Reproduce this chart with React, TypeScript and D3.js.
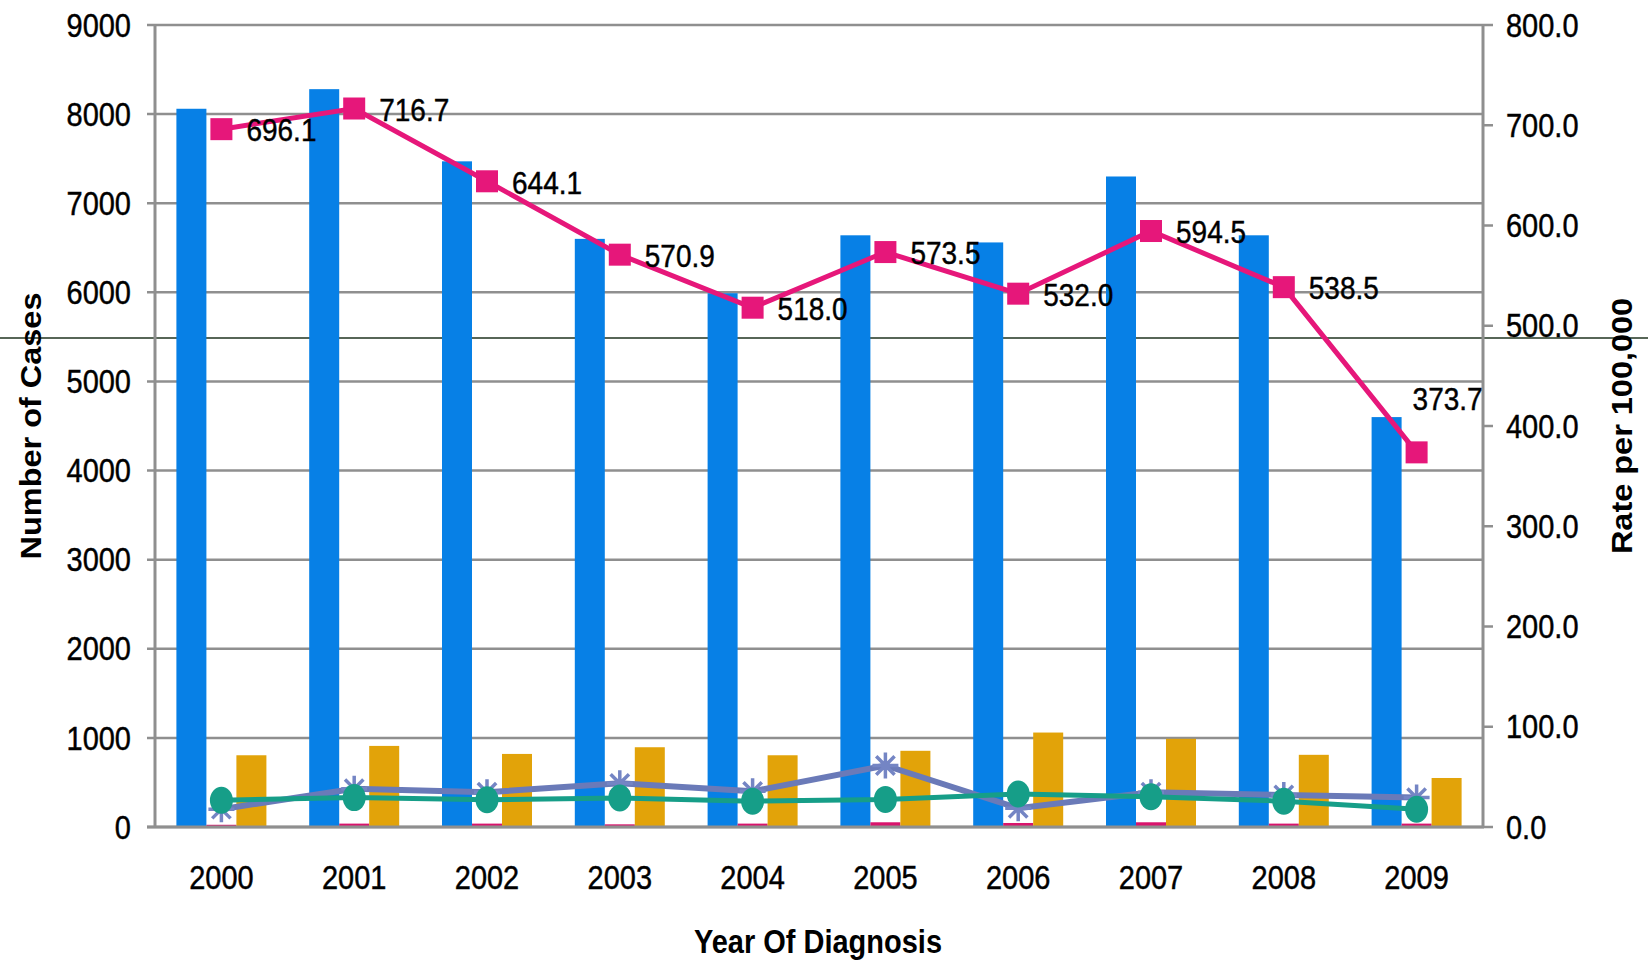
import React, { useEffect, useRef } from "react";
import * as d3 from "d3";

const years = ["2000", "2001", "2002", "2003", "2004", "2005", "2006", "2007", "2008", "2009"];
const totalCases = [8060, 8280, 7470, 6600, 5990, 6640, 6560, 7300, 6640, 4600];
const smallCases = [25, 38, 38, 30, 38, 53, 45, 53, 38, 38];
const otherCases = [805, 910, 820, 895, 805, 855, 1060, 990, 810, 550];
const asteriskSeries = [200, 430, 390, 490, 400, 690, 210, 390, 360, 330];
const circleSeries = [300, 330, 305, 325, 290, 310, 370, 340, 290, 200];
const rates = [696.1, 716.7, 644.1, 570.9, 518.0, 573.5, 532.0, 594.5, 538.5, 373.7];
const rateLabels = ["696.1", "716.7", "644.1", "570.9", "518.0", "573.5", "532.0", "594.5", "538.5", "373.7"];
const leftTicks = [0, 1000, 2000, 3000, 4000, 5000, 6000, 7000, 8000, 9000];
const rightTicks = [0, 100, 200, 300, 400, 500, 600, 700, 800];

const W = 1648;
const H = 964;
const FONT = "'Liberation Sans', Arial, Helvetica, sans-serif";
const STRETCH = 1.12;

export default function App() {
  const ref = useRef<SVGSVGElement | null>(null);

  useEffect(() => {
    const svg = d3.select(ref.current);
    svg.selectAll("*").remove();

    const left = 155, right = 1483, top = 25, bottom = 827;
    const x = d3.scaleBand<string>().domain(years).range([left, right]).paddingInner(0).paddingOuter(0);
    const yL = d3.scaleLinear().domain([0, 9000]).range([bottom, top]);
    const yR = d3.scaleLinear().domain([0, 800]).range([bottom, top]);
    const barW = 30;
    const groupW = barW * 3;
    const cx = (i: number) => (x(years[i]) as number) + x.bandwidth() / 2;
    const gray = "#8f8f8f";

    const text = (
      px: number, py: number, s: string,
      opts: { size: number; bold?: boolean; anchor?: string; rotate?: boolean }
    ) => {
      const tf = opts.rotate
        ? `translate(${px},${py}) rotate(-90) scale(${STRETCH},1)`
        : `translate(${px},${py}) scale(1,${STRETCH})`;
      svg.append("g").attr("transform", tf)
        .append("text")
        .attr("x", 0)
        .attr("y", opts.size * 0.36)
        .attr("text-anchor", opts.anchor || "start")
        .attr("font-family", FONT)
        .attr("font-size", opts.size)
        .attr("font-weight", opts.bold ? "bold" : "normal")
        .attr("fill", "#000")
        .attr("stroke", opts.bold ? "none" : "#000")
        .attr("stroke-width", opts.bold ? 0 : 0.4)
        .text(s);
    };

    svg.append("rect").attr("width", W).attr("height", H).attr("fill", "#fff");

    // stray dark horizontal line across the picture
    svg.append("line").attr("x1", 0).attr("x2", W).attr("y1", 338).attr("y2", 338)
      .attr("stroke", "#1f331f").attr("stroke-width", 1.5);

    // gridlines
    svg.append("g").selectAll("line").data(leftTicks).join("line")
      .attr("x1", left - 8).attr("x2", right)
      .attr("y1", (d) => yL(d)).attr("y2", (d) => yL(d))
      .attr("stroke", gray).attr("stroke-width", 2.5);

    // bars
    const seriesBars = [
      { data: totalCases, color: "#0780e6" },
      { data: smallCases, color: "#d9146c" },
      { data: otherCases, color: "#e2a309" },
    ];
    seriesBars.forEach((s, k) => {
      svg.append("g").selectAll("rect").data(s.data).join("rect")
        .attr("x", (_d, i) => cx(i) - groupW / 2 + k * barW)
        .attr("width", barW)
        .attr("y", (d) => yL(d))
        .attr("height", (d) => bottom - yL(d))
        .attr("fill", s.color);
    });

    // axes
    svg.append("line").attr("x1", left).attr("x2", left).attr("y1", top).attr("y2", bottom + 1)
      .attr("stroke", gray).attr("stroke-width", 3);
    svg.append("line").attr("x1", right).attr("x2", right).attr("y1", top).attr("y2", bottom + 1)
      .attr("stroke", gray).attr("stroke-width", 3);
    svg.append("line").attr("x1", left - 8).attr("x2", right + 1).attr("y1", bottom).attr("y2", bottom)
      .attr("stroke", gray).attr("stroke-width", 3);
    svg.append("g").selectAll("line").data(rightTicks).join("line")
      .attr("x1", right).attr("x2", right + 10)
      .attr("y1", (d) => yR(d)).attr("y2", (d) => yR(d))
      .attr("stroke", gray).attr("stroke-width", 2.5);

    // asterisk series
    const lineL = d3.line<number>().x((_d, i) => cx(i)).y((d) => yL(d));
    svg.append("path").attr("d", lineL(asteriskSeries)).attr("fill", "none")
      .attr("stroke", "#6a7ab8").attr("stroke-width", 6);
    asteriskSeries.forEach((d, i) => {
      const px = cx(i), py = yL(d), r = 13;
      const p = d3.path();
      for (let a = 0; a < 4; a++) {
        const ang = (a * Math.PI) / 4;
        p.moveTo(px - r * Math.sin(ang), py - r * Math.cos(ang));
        p.lineTo(px + r * Math.sin(ang), py + r * Math.cos(ang));
      }
      svg.append("path").attr("d", p.toString()).attr("stroke", "#7485c4").attr("stroke-width", 3.5).attr("fill", "none");
    });

    // circle series
    svg.append("path").attr("d", lineL(circleSeries)).attr("fill", "none")
      .attr("stroke", "#169e88").attr("stroke-width", 5);
    svg.append("g").selectAll("ellipse").data(circleSeries).join("ellipse")
      .attr("cx", (_d, i) => cx(i)).attr("cy", (d) => yL(d))
      .attr("rx", 11.5).attr("ry", 13.5).attr("fill", "#169e88");

    // rate line
    const lineR = d3.line<number>().x((_d, i) => cx(i)).y((d) => yR(d));
    svg.append("path").attr("d", lineR(rates)).attr("fill", "none")
      .attr("stroke", "#e6177a").attr("stroke-width", 5);
    svg.append("g").selectAll("rect").data(rates).join("rect")
      .attr("x", (_d, i) => cx(i) - 11).attr("y", (d) => yR(d) - 11)
      .attr("width", 22).attr("height", 22).attr("fill", "#e6177a");

    // data labels
    rates.forEach((d, i) => {
      if (i === rates.length - 1) {
        text(cx(i) - 4, yR(d) - 54, rateLabels[i], { size: 28 });
      } else {
        text(cx(i) + 25, yR(d) + 1, rateLabels[i], { size: 28 });
      }
    });

    // tick labels
    leftTicks.forEach((t) => text(131, yL(t), String(t), { size: 29, anchor: "end" }));
    rightTicks.forEach((t) => text(1506, yR(t), t.toFixed(1), { size: 29 }));
    years.forEach((yr, i) => text(cx(i), 877, yr, { size: 29, anchor: "middle" }));

    // titles
    text(818, 941, "Year Of Diagnosis", { size: 29, bold: true, anchor: "middle" });
    text(31, 426, "Number of Cases", { size: 29, bold: true, anchor: "middle", rotate: true });
    text(1622, 426, "Rate per 100,000", { size: 29, bold: true, anchor: "middle", rotate: true });
  }, []);

  return (
    <svg
      ref={ref}
      width={W}
      height={H}
      style={{ position: "absolute", left: 0, top: 0, display: "block" }}
    />
  );
}
